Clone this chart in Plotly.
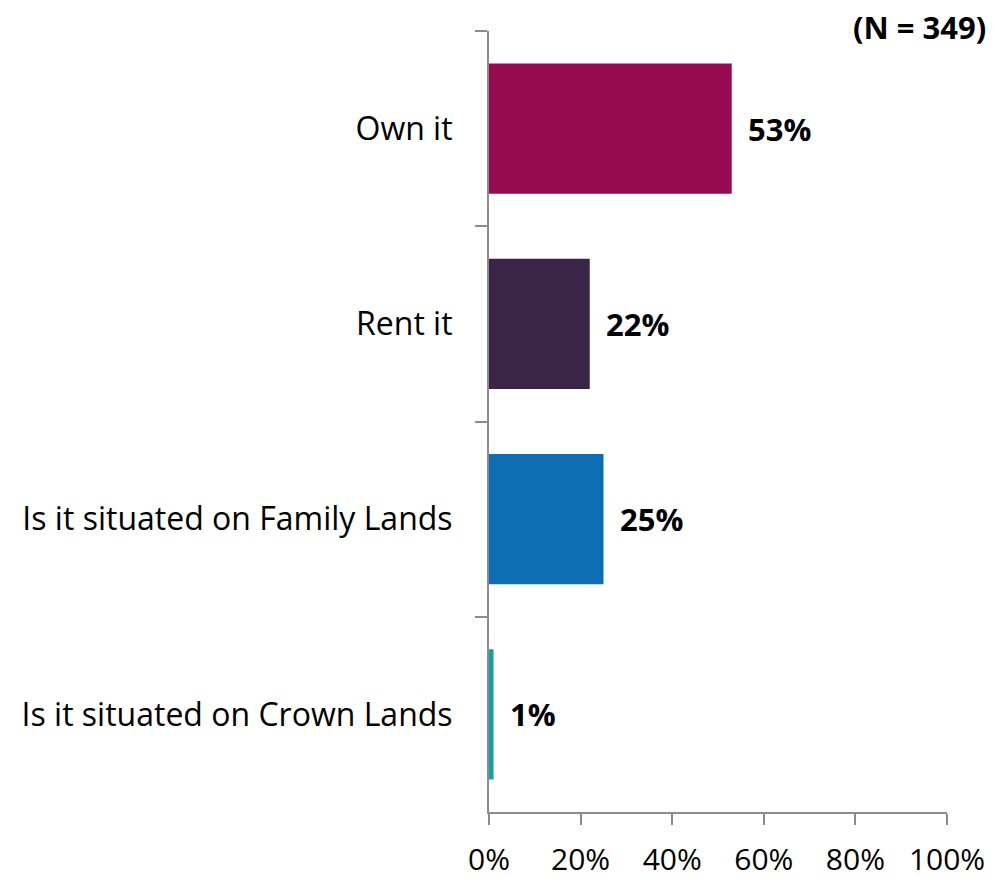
import plotly.graph_objects as go

categories = ["Own it", "Rent it", "Is it situated on Family Lands", "Is it situated on Crown Lands"]
values = [0.53, 0.22, 0.25, 0.01]
value_labels = ["53%", "22%", "25%", "1%"]
colors = ["#960a52", "#3a2549", "#0e6eb3", "#18a0a6"]
x_ticks = [0, 0.2, 0.4, 0.6, 0.8, 1.0]
x_tick_labels = ["0%", "20%", "40%", "60%", "80%", "100%"]

FONT = "Open Sans"

fig = go.Figure()
fig.add_trace(go.Bar(
    y=categories, x=values, orientation="h",
    marker=dict(color=colors, line=dict(width=0)),
    hoverinfo="skip",
))

for c, v, t in zip(categories, values, value_labels):
    fig.add_annotation(x=v, y=c, text="<b>%s</b>" % t, xanchor="left", yanchor="middle",
                       xshift=14, showarrow=False,
                       font=dict(family=FONT, size=31, color="#000000"))

fig.add_annotation(x=1, y=1, xref="paper", yref="paper", text="<b>(N = 349)</b>",
                   xanchor="right", yanchor="middle", showarrow=False, xshift=41, yshift=4,
                   font=dict(family=FONT, size=31, color="#000000"))

fig.update_layout(
    width=999, height=878,
    margin=dict(l=489, r=52, t=31, b=66, autoexpand=False),
    paper_bgcolor="white", plot_bgcolor="white",
    bargap=0.333, showlegend=False,
    font=dict(family=FONT, color="#000000"),
)
fig.update_xaxes(
    range=[0, 1], tickvals=x_ticks, ticktext=x_tick_labels, automargin=False,
    showgrid=False, zeroline=False, showline=True, linecolor="#8c8c8c", linewidth=2,
    ticks="outside", ticklen=11, tickwidth=2, tickcolor="#8c8c8c",
    tickfont=dict(family=FONT, size=30, color="#000000"), ticklabelstandoff=9,
)
fig.update_yaxes(
    autorange="reversed", tickson="boundaries", automargin=False,
    showgrid=False, zeroline=False, showline=True, linecolor="#8c8c8c", linewidth=2,
    ticks="outside", ticklen=12, tickwidth=2, tickcolor="#8c8c8c",
    tickfont=dict(family=FONT, size=32, color="#000000"), ticklabelstandoff=28,
)

fig.write_html("out.html", config={"displayModeBar": False},
               post_script="document.body.style.margin='0';document.body.style.overflow='hidden';")
